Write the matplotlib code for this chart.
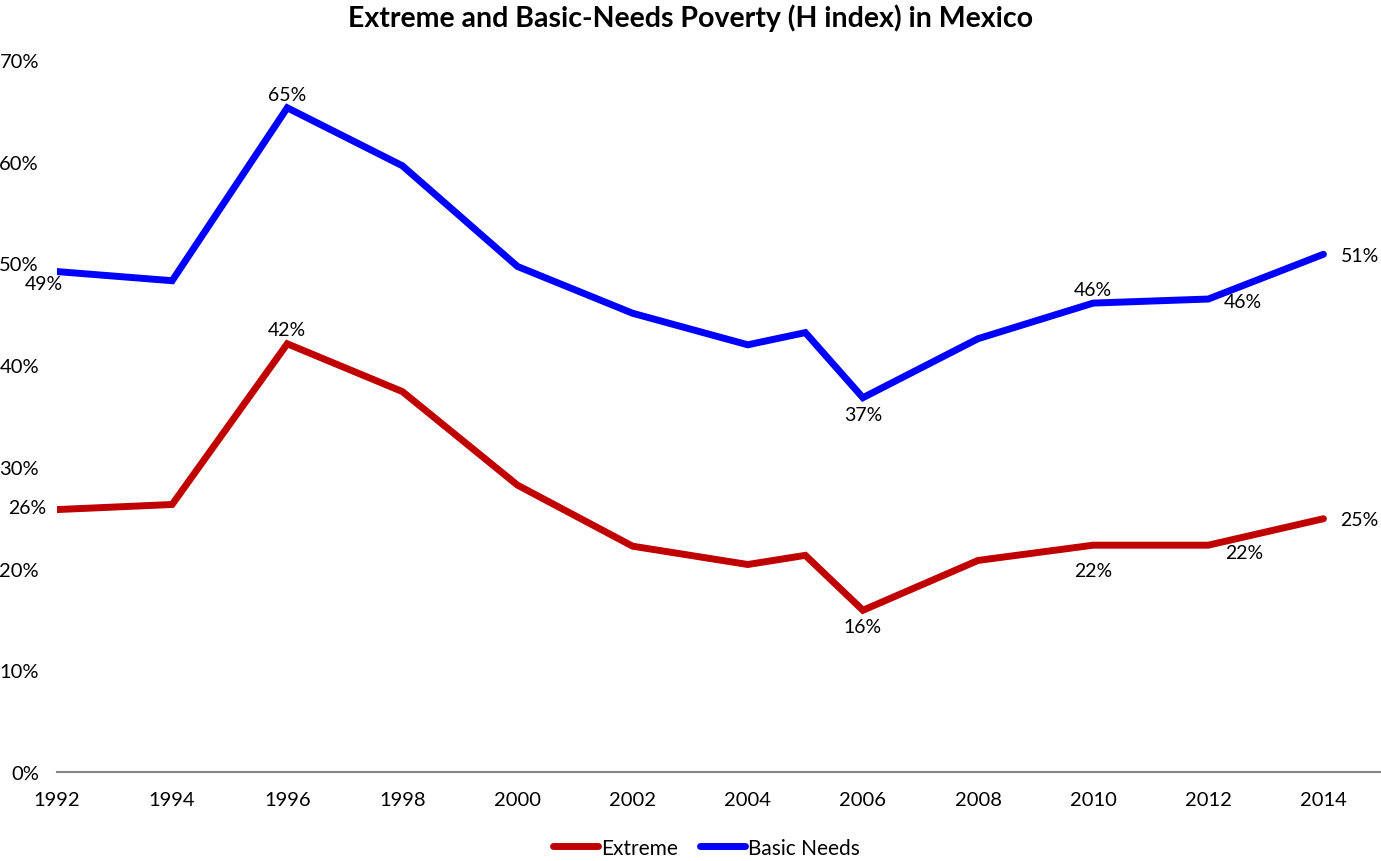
import matplotlib
matplotlib.use("Agg")
import matplotlib.pyplot as plt
from matplotlib.ticker import FuncFormatter

plt.rcParams['font.family'] = ['Lato', 'DejaVu Sans']

years = [1992, 1994, 1996, 1998, 2000, 2002, 2004, 2005, 2006, 2008, 2010, 2012, 2014]
extreme = [0.258, 0.263, 0.421, 0.374, 0.282, 0.222, 0.204, 0.213, 0.159, 0.208, 0.223, 0.223, 0.249]
basic = [0.492, 0.483, 0.653, 0.596, 0.497, 0.451, 0.420, 0.432, 0.368, 0.426, 0.461, 0.465, 0.509]
xticks = [1992, 1994, 1996, 1998, 2000, 2002, 2004, 2006, 2008, 2010, 2012, 2014]
yticks = [0, 0.1, 0.2, 0.3, 0.4, 0.5, 0.6, 0.7]

# labelled points: (index, dx_px, dy_px, ha)
labels_extreme = [(0, -11, 2, 'right'), (2, 0, 14, 'center'), (8, 0, -16, 'center'),
                  (10, 0, -25, 'center'), (11, 36, -7, 'center'), (12, 17, -1, 'left')]
labels_basic = [(0, 6, -12, 'right'), (2, 0, 13, 'center'), (8, 0, -17, 'center'),
                (10, 0, 14, 'center'), (11, 35, -2, 'center'), (12, 17, -1, 'left')]

fig = plt.figure(figsize=(13.81, 8.62), dpi=100)
ax = fig.add_axes([57/1381, 1-773/862, 1-57/1381, (773-61)/862])

ax.plot(years, extreme, color='#C00000', lw=5, label='Extreme', solid_capstyle='round', solid_joinstyle='miter')
ax.plot(years, basic, color='#0000FF', lw=5, label='Basic Needs', solid_capstyle='round', solid_joinstyle='miter')

ax.set_xlim(1992, 2015)
ax.set_ylim(0, 0.7)
ax.set_xticks(xticks)
ax.set_xticklabels([str(x) for x in xticks])
ax.set_yticks(yticks)
ax.yaxis.set_major_formatter(FuncFormatter(lambda v, p: f"{v*100:.0f}%"))
ax.tick_params(axis='both', length=0, labelsize=14.5, colors='black')
ax.tick_params(axis='y', pad=13)
ax.tick_params(axis='x', pad=14)
for s in ['top', 'right', 'left']:
    ax.spines[s].set_visible(False)
ax.spines['bottom'].set_color('#868686')
ax.spines['bottom'].set_linewidth(1.5)

PX = 72 / 100.0

def annotate(vals, specs):
    for i, dx, dy, ha in specs:
        ax.annotate(f"{vals[i]*100:.0f}%", (years[i], vals[i]), xytext=(dx * PX, dy * PX),
                    textcoords='offset points', ha=ha, va='center', fontsize=14,
                    annotation_clip=False)

annotate(extreme, labels_extreme)
annotate(basic, labels_basic)

fig.suptitle('Extreme and Basic-Needs Poverty (H index) in Mexico', fontsize=20.5, fontweight='bold', y=0.995)
fig.legend(loc='lower center', ncol=2, frameon=False, fontsize=15, bbox_to_anchor=(0.5116, -0.018),
           handlelength=2.15, columnspacing=1.05, handletextpad=0.15)

fig.savefig('out.png', dpi=100)
